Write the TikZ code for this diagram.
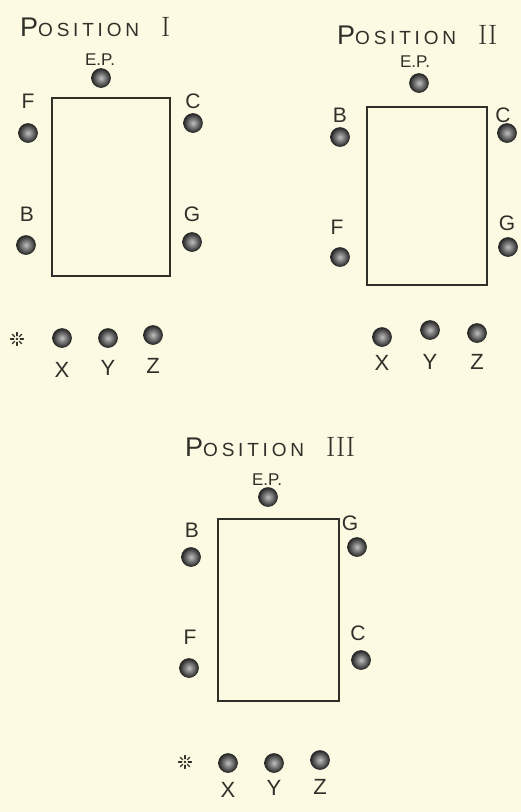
\documentclass[tikz,border=0pt]{standalone}
\usepackage{fontspec}
\setmainfont{Liberation Sans}
\newfontfamily\romfont{Latin Modern Roman}
\usetikzlibrary{positioning}

\definecolor{paper}{RGB}{252,250,226}
\definecolor{ink}{RGB}{48,48,42}

\newcommand{\postitle}[1]{{\fontsize{27}{27}\selectfont P}{\fontsize{19}{19}\selectfont\addfontfeature{LetterSpace=20}OSITION}\hspace{2.2em}{\romfont\fontsize{28}{28}\selectfont #1}}

\begin{document}
\begin{tikzpicture}[x=1pt,y=-1pt,
    board/.style={draw=ink,line width=1.4pt,inner sep=0pt},
    seed/.style={circle,draw=black!85,line width=0.6pt,inner color=gray!50,outer color=black!85,minimum size=19pt,inner sep=0pt},
    lab/.style={text=ink,font=\fontsize{21}{21}\selectfont,inner sep=0pt},
    eplab/.style={text=ink,font=\fontsize{17}{17}\selectfont,inner sep=0pt},
    xyz/.style={text=ink,font=\fontsize{22}{22}\selectfont,inner sep=0pt},
    ttl/.style={text=ink,anchor=west,inner sep=0pt},
    ray/.style={draw=ink,line width=1.2pt,line cap=round}]
    \fill[paper] (0,0) rectangle (521,812);
    \useasboundingbox (0,0) rectangle (521,812);

    % position I
    \node[ttl] (titleI) at (20,27) {\postitle{I}};
    \node[eplab] (epI) at (100,60) {E.P.};
    \node[seed] (epdotI) at (101,78) {};
    \node[board,minimum width=118pt,minimum height=178pt] (boxI) at (111,187) {};
    \node[lab] (fI) at (28,101) {F};
    \node[seed] (fdotI) at (28,133) {};
    \node[lab] (cI) at (193,101) {C};
    \node[seed] (cdotI) at (193,123) {};
    \node[lab] (bI) at (27,214) {B};
    \node[seed] (bdotI) at (26,245) {};
    \node[lab] (gI) at (192,214) {G};
    \node[seed] (gdotI) at (192,242) {};
    \coordinate (starI) at (17,339);
    \node[seed] (xI) at (62,338) {};
    \node[seed] (yI) at (108,338) {};
    \node[seed] (zI) at (153,335) {};
    \node[xyz,below=14pt of xI] (xlabI) {X};
    \node[xyz,below=12pt of yI] (ylabI) {Y};
    \node[xyz,below=13pt of zI] (zlabI) {Z};

    % position II
    \node[ttl] (titleII) at (337,35) {\postitle{II}};
    \node[eplab] (epII) at (415,62) {E.P.};
    \node[seed] (epdotII) at (419,83) {};
    \node[board,minimum width=120pt,minimum height=178pt] (boxII) at (427,196) {};
    \node[lab] (bII) at (340,115) {B};
    \node[seed] (bdotII) at (340,137) {};
    \node[lab] (cII) at (503,115) {C};
    \node[seed] (cdotII) at (507,133) {};
    \node[lab] (fII) at (337,227) {F};
    \node[seed] (fdotII) at (340,257) {};
    \node[lab] (gII) at (507,223) {G};
    \node[seed] (gdotII) at (508,247) {};
    \node[seed] (xII) at (382,337) {};
    \node[seed] (yII) at (430,330) {};
    \node[seed] (zII) at (477,333) {};
    \node[xyz,below=8pt of xII] (xlabII) {X};
    \node[xyz,below=14pt of yII] (ylabII) {Y};
    \node[xyz,below=11pt of zII] (zlabII) {Z};

    % position III
    \node[ttl] (titleIII) at (185,447) {\postitle{III}};
    \node[eplab] (epIII) at (267,480) {E.P.};
    \node[seed] (epdotIII) at (268,497) {};
    \node[board,minimum width=121pt,minimum height=182pt] (boxIII) at (278.5,610) {};
    \node[lab] (bIII) at (192,530) {B};
    \node[seed] (bdotIII) at (191,557) {};
    \node[lab] (gIII) at (350,523) {G};
    \node[seed] (gdotIII) at (357,547) {};
    \node[lab] (fIII) at (190,637) {F};
    \node[seed] (fdotIII) at (189,668) {};
    \node[lab] (cIII) at (358,633) {C};
    \node[seed] (cdotIII) at (361,660) {};
    \coordinate (starIII) at (185,762);
    \node[seed] (xIII) at (228,763) {};
    \node[seed] (yIII) at (274,763) {};
    \node[seed] (zIII) at (320,760) {};
    \node[xyz,below=9pt of xIII] (xlabIII) {X};
    \node[xyz,below=7pt of yIII] (ylabIII) {Y};
    \node[xyz,below=9pt of zIII] (zlabIII) {Z};

    % the little stars
    \foreach \s in {starI,starIII}{
        \fill[ink] (\s) circle (1.4pt);
        \foreach \a in {0,45,...,315}
            \draw[ray] (\s) ++(\a:3.2) -- ++(\a:3.3);
    }
\end{tikzpicture}
\end{document}
